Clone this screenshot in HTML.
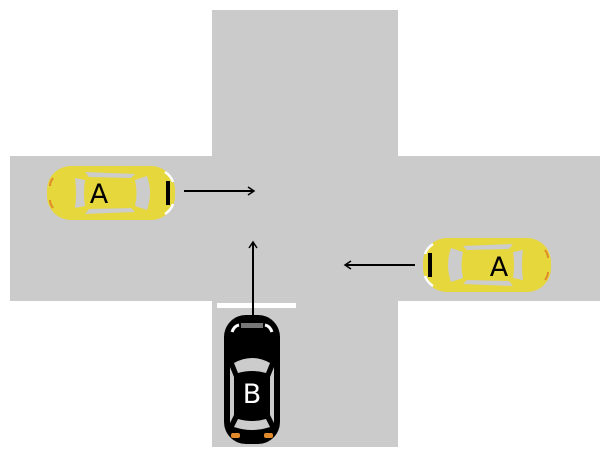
<!DOCTYPE html>
<html><head><style>body{margin:0;background:#fff}svg{display:block}</style></head><body>
<svg width="610" height="458" viewBox="0 0 610 458" xmlns="http://www.w3.org/2000/svg" font-family="DejaVu Sans, Liberation Sans, sans-serif">
<defs>
<marker id="ah" markerWidth="10" markerHeight="10" refX="8" refY="5" orient="auto" markerUnits="userSpaceOnUse"><path d="M2,1 L8,5 L2,9" fill="none" stroke="#000" stroke-width="1.5"/></marker>
<g id="carA">
<rect x="0" y="0" width="128" height="54" rx="24" fill="#e6d73c"/>
<path d="M28,12 Q30,27 28,42 L38,40 Q36,27 38,14 Z" fill="#ccc"/>
<path d="M88,14 Q91,27 88,40 L100,44 Q106,27 100,10 Z" fill="#ccc"/>
<path d="M38,6 L88,8 L84,12 L42,11 Z" fill="#ccc"/>
<path d="M38,48 L88,46 L84,42 L42,43 Z" fill="#ccc"/>
<rect x="119" y="15" width="4" height="24" fill="#000"/>
<path d="M118,6 Q124,10 126,16" stroke="#fff" stroke-width="2.5" fill="none"/>
<path d="M118,48 Q124,44 126,38" stroke="#fff" stroke-width="2.5" fill="none"/>
<path d="M6,12 Q3,16 3,20" stroke="#e08a2a" stroke-width="2" fill="none"/>
<path d="M6,42 Q3,38 3,34" stroke="#e08a2a" stroke-width="2" fill="none"/>
</g>
</defs>
<rect x="212" y="10" width="186" height="437" fill="#cbcbcb"/>
<rect x="10" y="156" width="590" height="145" fill="#cbcbcb"/>
<rect x="217" y="303" width="79" height="5" fill="#fff"/>
<use href="#carA" x="47" y="166"/>
<text x="99" y="203" font-size="27" text-anchor="middle" fill="#000">A</text>
<use href="#carA" transform="translate(551,292) rotate(180)"/>
<text x="499" y="276" font-size="27" text-anchor="middle" fill="#000">A</text>
<g transform="translate(224,315)">
<rect x="0" y="0" width="56" height="129" rx="22" fill="#000"/>
<rect x="17" y="8" width="22" height="5" fill="#777"/>
<path d="M8,17 Q10,11 15,10" stroke="#fff" stroke-width="3" fill="none"/>
<path d="M48,17 Q46,11 41,10" stroke="#fff" stroke-width="3" fill="none"/>
<path d="M10,48 Q28,38 46,48 L42,58 Q28,54 14,58 Z" fill="#ccc"/>
<path d="M14,104 Q28,108 42,104 L46,112 Q28,118 10,112 Z" fill="#ccc"/>
<path d="M6,52 L10,62 L10,100 L6,108 Z" fill="#ccc"/>
<path d="M50,52 L46,62 L46,100 L50,108 Z" fill="#ccc"/>
<rect x="7" y="118" width="9" height="5" rx="2" fill="#e08a2a"/>
<rect x="40" y="118" width="9" height="5" rx="2" fill="#e08a2a"/>
</g>
<text x="252" y="403" font-size="27" text-anchor="middle" fill="#fff">B</text>
<line x1="184" y1="191" x2="254" y2="191" stroke="#000" stroke-width="2" marker-end="url(#ah)"/>
<line x1="415" y1="265" x2="345" y2="265" stroke="#000" stroke-width="2" marker-end="url(#ah)"/>
<line x1="253" y1="315" x2="253" y2="242" stroke="#000" stroke-width="2" marker-end="url(#ah)"/>
</svg>
</body></html>
